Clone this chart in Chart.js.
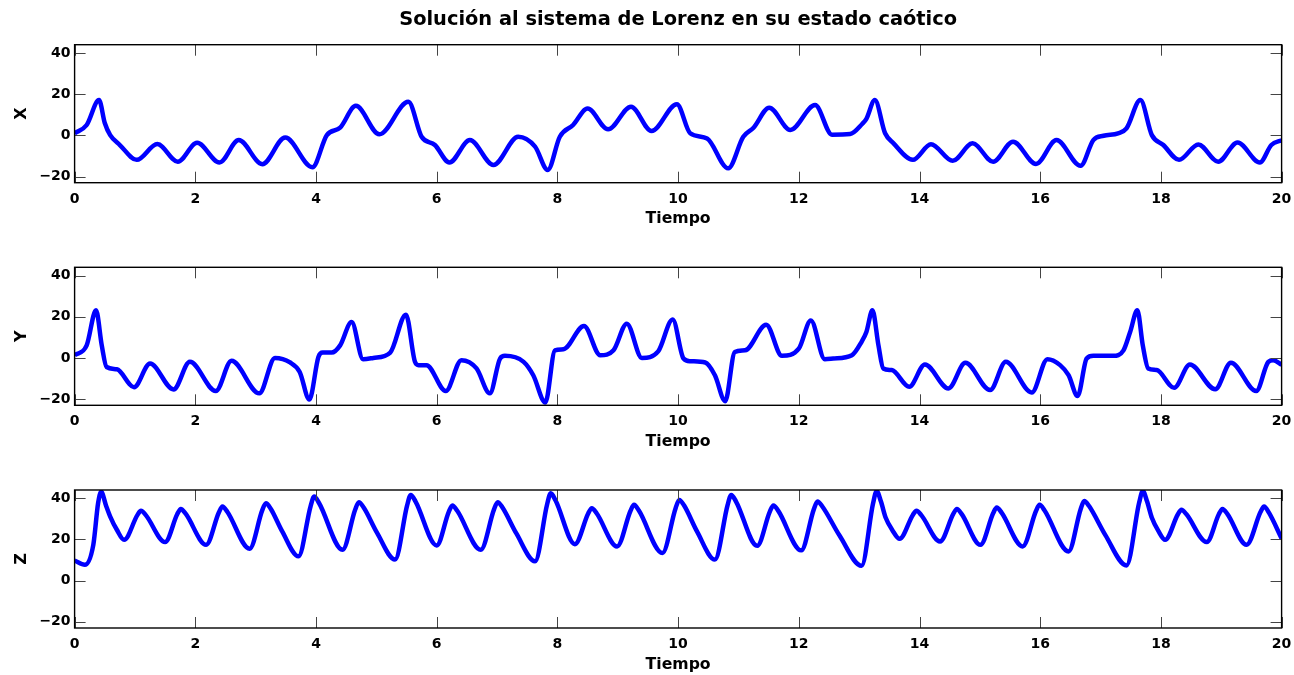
<!DOCTYPE html>
<html>
<head>
<meta charset="utf-8">
<script src="https://cdn.jsdelivr.net/npm/chart.js@4.4.1/dist/chart.umd.min.js"></script>
<style>
  html, body { margin: 0; padding: 0; background: #fff; overflow: hidden; }
  body { width: 1294px; height: 675px; position: relative; }
  canvas { position: absolute; left: 0; }
</style>
</head>
<body>
<canvas id="chartX" width="1294" height="230" style="top:0px"></canvas>
<canvas id="chartY" width="1294" height="230" style="top:222px"></canvas>
<canvas id="chartZ" width="1294" height="230" style="top:445px"></canvas>
<script>
// Lorenz system, chaotic regime: x(t), y(t), z(t) for t in [0, 20]
const timeTicks = [0, 2, 4, 6, 8, 10, 12, 14, 16, 18, 20];
const valueTicks = [-20, 0, 20, 40];

const xTime = [0, 0.2, 0.405, 0.5, 0.59, 0.75, 1.03, 1.37, 1.71, 2.03, 2.40, 2.72, 3.11, 3.49, 3.94,
  4.18, 4.40, 4.66, 5.05, 5.53, 5.75, 5.97, 6.21, 6.55, 6.94, 7.35, 7.63, 7.84, 8.04, 8.26, 8.50,
  8.84, 9.22, 9.56, 9.98, 10.20, 10.48, 10.83, 11.08, 11.25, 11.51, 11.86, 12.27, 12.55, 12.85,
  13.05, 13.12, 13.26, 13.43, 13.57, 13.89, 14.19, 14.55, 14.88, 15.22, 15.55, 15.93, 16.27, 16.67,
  16.88, 17.05, 17.29, 17.43, 17.66, 17.85, 18.04, 18.30, 18.62, 18.95, 19.27, 19.64, 19.83, 20];
const xVals = [1.0, 5.0, 17.1, 6.0, 0.1, -4.7, -11.9, -4.2, -12.8, -3.6, -13.2, -2.3, -14.0, -1.1, -15.5,
  0.1, 3.7, 14.3, 0.5, 16.3, -0.7, -4.7, -13.2, -2.3, -14.4, -0.7, -5.5, -16.8, -0.7, 5.0, 13.0,
  2.9, 13.9, 2.1, 15.1, 1.0, -1.5, -16.0, -0.7, 3.7, 13.4, 2.6, 14.7, 0.3, 0.6,
  5.5, 8.0, 17.1, 1.0, -3.9, -11.9, -4.3, -12.4, -3.9, -12.8, -3.1, -13.9, -2.3, -14.8,
  -2.3, -0.2, 0.95, 3.4, 17.1, 0.1, -4.7, -11.9, -4.4, -12.8, -3.5, -13.2, -4.7, -2.4];

const yTime = [0, 0.2, 0.355, 0.45, 0.53, 0.70, 0.985, 1.25, 1.64, 1.91, 2.34, 2.60, 3.06, 3.32, 3.57,
  3.73, 3.89, 4.04, 4.11, 4.26, 4.40, 4.59, 4.78, 4.95, 5.23, 5.49, 5.64, 5.70, 5.83, 6.15, 6.41,
  6.66, 6.88, 7.05, 7.13, 7.44, 7.60, 7.80, 7.96, 8.10, 8.44, 8.71, 8.93, 9.15, 9.40, 9.67, 9.91,
  10.09, 10.20, 10.45, 10.61, 10.78, 10.94, 11.11, 11.46, 11.72, 12.00, 12.20, 12.43, 12.57, 12.88,
  13.04, 13.12, 13.22, 13.32, 13.40, 13.54, 13.83, 14.09, 14.48, 14.76, 15.17, 15.43, 15.86, 16.12,
  16.33, 16.47, 16.62, 16.77, 16.88, 17.21, 17.38, 17.49, 17.61, 17.70, 17.79, 17.93, 18.22, 18.48,
  18.90, 19.16, 19.58, 19.78, 19.86, 20];
const yVals = [1.3, 6.1, 23.1, 6.1, -4.4, -5.5, -14.2, -2.7, -15.3, -1.9, -16.1, -1.4, -17.2, 0, -2.2,
  -6.8, -20.2, 0.5, 2.6, 2.6, 6.1, 17.4, -0.6, 0, 2.6, 21.0, -1.9, -3.5, -3.5, -16.1, -1.1,
  -5.1, -17.2, -0.3, 1.0, -1.9, -8.4, -21.6, 3.7, 4.2, 15.5, 1.3, 3.7, 16.6, 0, 3.2, 18.7,
  -0.3, -1.6, -2.2, -8.4, -21.0, 2.9, 3.7, 16.1, 1.0, 4.5, 18.2, -0.6, -0.3, 1.3,
  7.8, 12.6, 23.1, 6.1, -5.1, -5.9, -14.0, -3.2, -14.8, -2.4, -15.6, -1.9, -16.8, -0.6,
  -3.5, -8.4, -18.5, -0.3, 1.0, 1.0, 3.7, 12.6, 23.1, 6.1, -5.1, -5.9, -14.5, -3.2,
  -15.2, -2.3, -16.1, -1.9, -1.1, -3.3];

const zTime = [0, 0.17, 0.31, 0.39, 0.44, 0.52, 0.59, 0.70, 0.82, 1.04,
  1.10, 1.18, 1.50, 1.70, 1.76, 1.84, 2.18, 2.39, 2.45, 2.53,
  2.90, 3.11, 3.17, 3.25, 3.44, 3.71, 3.91, 3.97, 4.05, 4.44,
  4.65, 4.71, 4.79, 5.01, 5.31, 5.51, 5.57, 5.65, 6.00, 6.20,
  6.26, 6.34, 6.73, 6.95, 7.01, 7.09, 7.32, 7.63, 7.83, 7.89,
  7.97, 8.29, 8.51, 8.57, 8.65, 8.99, 9.21, 9.27, 9.35, 9.74,
  9.96, 10.02, 10.10, 10.315, 10.61, 10.82, 10.88, 10.96, 11.31, 11.52,
  11.58, 11.66, 12.04, 12.25, 12.31, 12.39, 12.675, 13.04, 13.23, 13.29,
  13.36, 13.44, 13.55, 13.67, 13.89, 13.95, 14.03, 14.34, 14.56, 14.62,
  14.70, 15.01, 15.22, 15.28, 15.36, 15.71, 15.93, 15.99, 16.07, 16.47,
  16.67, 16.73, 16.81, 17.08, 17.43, 17.64, 17.70, 17.77, 17.85, 17.96,
  18.07, 18.28, 18.34, 18.42, 18.76, 18.96, 19.02, 19.10, 19.42, 19.65,
  19.71, 19.79, 20];
const zVals = [9.7, 7.7, 17.4, 37.7, 43.2, 36.5, 31.1, 24.7, 19.8, 31.8,
  33.9, 31.8, 18.7, 32.2, 34.8, 32.5, 17.4, 33.1, 36.0, 33.45,
  15.5, 34.2, 37.6, 34.9, 23.9, 11.8, 36.1, 40.8, 37.7, 15.0,
  34.5, 38.1, 35.5, 23.3, 10.2, 36.5, 41.6, 38.4, 17.1, 33.4,
  36.5, 33.9, 15.0, 34.6, 38.1, 35.5, 22.9, 9.4, 37.1, 42.4,
  38.9, 17.7, 32.6, 35.2, 32.7, 16.6, 33.8, 36.8, 34.0, 13.4,
  35.3, 39.2, 36.45, 23.8, 10.2, 36.7, 41.6, 38.4, 16.9, 33.5,
  36.5, 33.85, 14.7, 34.7, 38.4, 36.0, 21.9, 7.2, 37.4, 43.5,
  38.5, 30.5, 24.5, 20.3, 31.9, 33.9, 31.8, 19.0, 32.4, 34.8,
  32.3, 17.4, 32.7, 35.5, 33.0, 16.6, 33.8, 36.8, 34.2, 14.2,
  34.7, 38.7, 36.2, 22.1, 7.4, 37.9, 43.5, 38.5, 30.5, 24.0,
  19.8, 32.1, 34.4, 32.3, 18.7, 32.2, 34.8, 32.4, 17.4, 33.3,
  36.0, 33.0, 20.5];

const FONT = 'DejaVu Sans';

function toPoints(ts, vs) {
  return ts.map(function (t, i) { return { x: t, y: vs[i] }; });
}

// MATLAB-style box: black frame plus short inward ticks on all four sides
const boxTicks = {
  id: 'boxTicks',
  afterDraw: function (chart) {
    const ctx = chart.ctx;
    const a = chart.chartArea;
    const xs = chart.scales.x, ys = chart.scales.y;
    const len = 11;
    ctx.save();
    ctx.strokeStyle = '#444';
    ctx.lineWidth = 1;
    ctx.beginPath();
    timeTicks.forEach(function (t) {
      const px = Math.round(xs.getPixelForValue(t)) + 0.5;
      ctx.moveTo(px, a.bottom); ctx.lineTo(px, a.bottom - len);
      ctx.moveTo(px, a.top); ctx.lineTo(px, a.top + len);
    });
    valueTicks.forEach(function (v) {
      const py = Math.round(ys.getPixelForValue(v)) + 0.5;
      ctx.moveTo(a.left, py); ctx.lineTo(a.left + len, py);
      ctx.moveTo(a.right, py); ctx.lineTo(a.right - len, py);
    });
    ctx.stroke();
    ctx.strokeStyle = '#000';
    ctx.lineWidth = 1.4;
    ctx.strokeRect(a.left, a.top, a.right - a.left, a.bottom - a.top);
    ctx.restore();
  }
};

function makeChart(id, label, ts, vs, padTop, withTitle) {
  const padBottom = 230 - padTop - 138 - 46;
  return new Chart(document.getElementById(id), {
    type: 'line',
    data: {
      datasets: [{
        label: label,
        data: toPoints(ts, vs),
        borderColor: '#0000ff',
        borderWidth: 4.5,
        pointRadius: 0,
        cubicInterpolationMode: 'monotone',
        clip: 0
      }]
    },
    options: {
      responsive: false,
      animation: false,
      layout: { padding: { top: withTitle ? 0 : padTop, bottom: padBottom, left: 0, right: 12.4 } },
      plugins: {
        legend: { display: false },
        tooltip: { enabled: false },
        title: {
          display: withTitle,
          fullSize: false,   // centre over the plot area, not the whole canvas
          text: 'Solución al sistema de Lorenz en su estado caótico',
          color: '#000',
          font: { family: FONT, size: 19.4, weight: 'bold' },
          padding: { top: 8, bottom: 44.7 - 8 - 19.4 * 1.2 }
        }
      },
      scales: {
        x: {
          type: 'linear',
          min: 0, max: 20,
          grid: { display: false, drawTicks: false },
          border: { display: false },
          afterBuildTicks: function (s) { s.ticks = timeTicks.map(function (v) { return { value: v }; }); },
          afterFit: function (s) { s.height = 46; s.paddingLeft = 0; s.paddingRight = 0; },
          ticks: { color: '#000', padding: 8, maxRotation: 0, font: { family: FONT, size: 14, weight: 'bold' } },
          title: { display: true, text: 'Tiempo', color: '#000', padding: { top: 0, bottom: 0 },
                   font: { family: FONT, size: 15.7, weight: 'bold' } }
        },
        y: {
          min: -23, max: 44,
          grid: { display: false, drawTicks: false },
          border: { display: false },
          afterBuildTicks: function (s) { s.ticks = valueTicks.map(function (v) { return { value: v }; }); },
          afterFit: function (s) { s.width = 74.6; s.paddingTop = 0; s.paddingBottom = 0; },
          ticks: {
            color: '#000', padding: 4,
            font: { family: FONT, size: 14, weight: 'bold' },
            callback: function (v) { return v < 0 ? '\u2212' + Math.abs(v) : String(v); }
          },
          title: { display: true, text: label, color: '#000', padding: { top: 12, bottom: 0 },
                   font: { family: FONT, size: 16, weight: 'bold' } }
        }
      }
    },
    plugins: [boxTicks]
  });
}

makeChart('chartX', 'X', xTime, xVals, 44.7, true);
makeChart('chartY', 'Y', yTime, yVals, 45.3, false);
makeChart('chartZ', 'Z', zTime, zVals, 45.0, false);
</script>
</body>
</html>
